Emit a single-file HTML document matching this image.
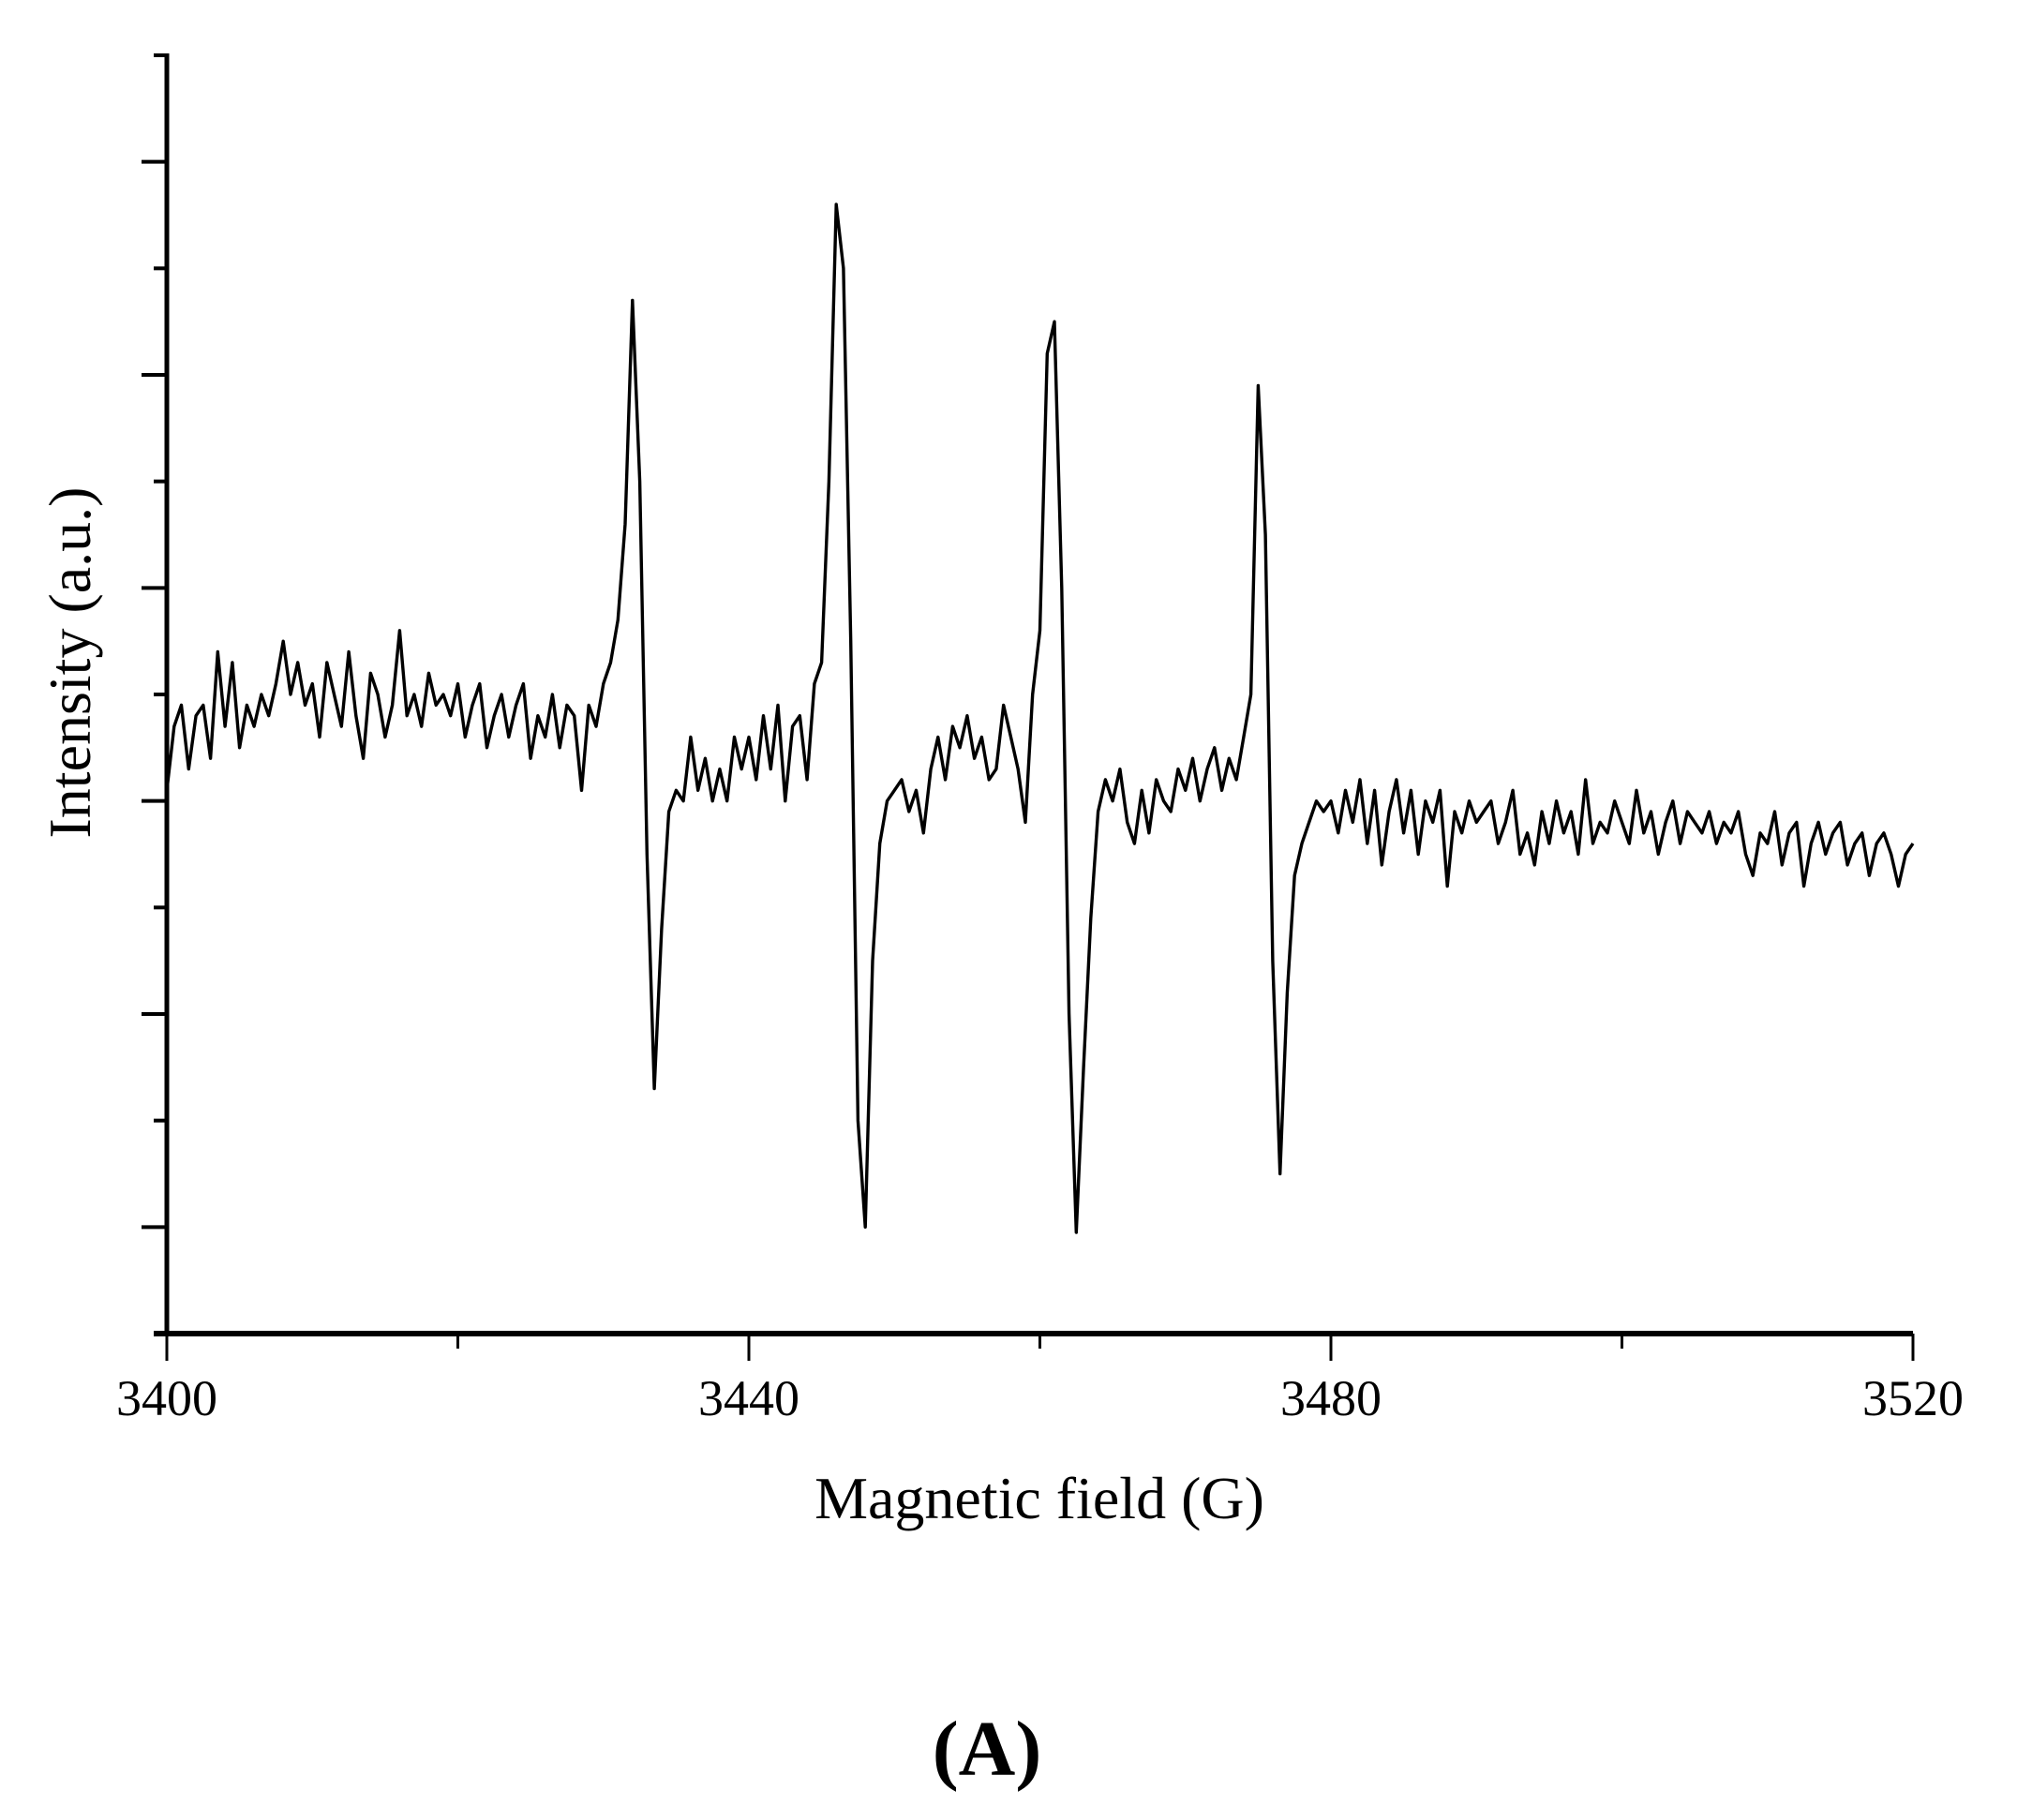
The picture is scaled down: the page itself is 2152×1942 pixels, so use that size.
<!DOCTYPE html>
<html><head><meta charset="utf-8"><style>
html,body{margin:0;padding:0;background:#fff;}
svg{display:block;}
text{font-family:"Liberation Serif",serif;fill:#000;}
</style></head><body>
<svg id="chart" width="2152" height="1942" viewBox="0 0 2152 1942" xmlns="http://www.w3.org/2000/svg"></svg>
<script>
const fieldStart = 3400;
const fieldStep = 0.5;
const xTicks = [3400, 3440, 3480, 3520];
const xMinorTicks = [3420, 3460, 3500];
const intensity = [
5.1,5.7,5.9,5.3,5.8,5.9,5.4,6.4,5.7,6.3,
5.5,5.9,5.7,6.0,5.8,6.1,6.5,6.0,6.3,5.9,
6.1,5.6,6.3,6.0,5.7,6.4,5.8,5.4,6.2,6.0,
5.6,5.9,6.6,5.8,6.0,5.7,6.2,5.9,6.0,5.8,
6.1,5.6,5.9,6.1,5.5,5.8,6.0,5.6,5.9,6.1,
5.4,5.8,5.6,6.0,5.5,5.9,5.8,5.1,5.9,5.7,
6.1,6.3,6.7,7.6,9.7,8.0,4.5,2.3,3.8,4.9,
5.1,5.0,5.6,5.1,5.4,5.0,5.3,5.0,5.6,5.3,
5.6,5.2,5.8,5.3,5.9,5.0,5.7,5.8,5.2,6.1,
6.3,8.0,10.6,10.0,6.5,2.0,1.0,3.5,4.6,5.0,
5.1,5.2,4.9,5.1,4.7,5.3,5.6,5.2,5.7,5.5,
5.8,5.4,5.6,5.2,5.3,5.9,5.6,5.3,4.8,6.0,
6.6,9.2,9.5,7.0,3.0,0.95,2.5,3.9,4.9,5.2,
5.0,5.3,4.8,4.6,5.1,4.7,5.2,5.0,4.9,5.3,
5.1,5.4,5.0,5.3,5.5,5.1,5.4,5.2,5.6,6.0,
8.9,7.5,3.5,1.5,3.2,4.3,4.6,4.8,5.0,4.9,
5.0,4.7,5.1,4.8,5.2,4.6,5.1,4.4,4.9,5.2,
4.7,5.1,4.5,5.0,4.8,5.1,4.2,4.9,4.7,5.0,
4.8,4.9,5.0,4.6,4.8,5.1,4.5,4.7,4.4,4.9,
4.6,5.0,4.7,4.9,4.5,5.2,4.6,4.8,4.7,5.0,
4.8,4.6,5.1,4.7,4.9,4.5,4.8,5.0,4.6,4.9,
4.8,4.7,4.9,4.6,4.8,4.7,4.9,4.5,4.3,4.7,
4.6,4.9,4.4,4.7,4.8,4.2,4.6,4.8,4.5,4.7,
4.8,4.4,4.6,4.7,4.3,4.6,4.7,4.5,4.2,4.5,
4.6
];
const yTickCount = 12;

const svg = document.getElementById('chart');
const NS = 'http://www.w3.org/2000/svg';
const X0 = 178, X1 = 2041, Y0 = 1423, Y1 = 59;
const xScale = v => X0 + (v - 3400) / (3520 - 3400) * (X1 - X0);
const yScale = v => Y0 - v / yTickCount * (Y0 - Y1);
function mk(tag, attrs){const e=document.createElementNS(NS,tag);for(const k in attrs)e.setAttribute(k,attrs[k]);svg.appendChild(e);return e;}

let d = '';
intensity.forEach((v,i)=>{const x=xScale(fieldStart+i*fieldStep), y=yScale(v); d += (i?'L':'M')+x.toFixed(1)+','+y.toFixed(1);});
const p = mk('path',{d:d,fill:'none',stroke:'#000','stroke-width':3.4,'stroke-linejoin':'round'});



const ya = mk('line',{x1:X0,y1:Y1-2,x2:X0,y2:Y0+3,stroke:'#000','stroke-width':5});


const xa = mk('line',{x1:X0-14,y1:Y0,x2:X1,y2:Y0,stroke:'#000','stroke-width':6});



for(let k=0;k<=yTickCount;k++){
  const y=yScale(k); const long = (k%2===1);
  const t = mk('line',{x1:X0-(long?27:14),y1:y,x2:X0,y2:y,stroke:'#000','stroke-width':4});
  
  
}
xTicks.forEach(v=>{
  const x=xScale(v);
  const t=mk('line',{x1:x,y1:Y0,x2:x,y2:Y0+29,stroke:'#000','stroke-width':3});
  
  
  const l=mk('text',{x:x,y:1510,'font-size':54,'text-anchor':'middle'});
  l.textContent=v;
  
  
});
xMinorTicks.forEach(v=>{
  const x=xScale(v);
  const t=mk('line',{x1:x,y1:Y0,x2:x,y2:Y0+16,stroke:'#000','stroke-width':3});
  
  
});

const xt=mk('text',{x:1109,y:1620,'font-size':64,'text-anchor':'middle'});
xt.textContent='Magnetic field (G)';


const yt=mk('text',{x:0,y:0,'font-size':64,'text-anchor':'middle',transform:'translate(96,707) rotate(-90)'});
yt.textContent='Intensity (a.u.)';


const pl=mk('text',{x:1053,y:1894,'font-size':84,'text-anchor':'middle','font-weight':'bold'});
pl.textContent='(A)';


</script>
</body></html>
